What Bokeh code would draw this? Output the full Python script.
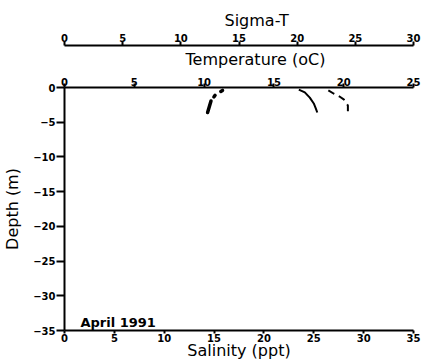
from bokeh.plotting import figure
from bokeh.models import LinearAxis, Range1d, FixedTicker, Label, Title
from bokeh.embed import file_html
from bokeh.resources import INLINE

# Profiles (depth in m, negative downward)
salinity = [23.5, 24.1, 24.6, 25.0, 25.2, 25.35]
sal_depth = [-0.3, -0.7, -1.45, -2.3, -3.0, -3.6]
temperature = [18.9, 19.3, 19.7, 20.0, 20.3, 20.3]
temp_depth = [-0.4, -0.9, -1.3, -1.7, -2.6, -3.5]
sigma_t = [12.3, 12.6, 13.0, 13.7]
sigma_depth = [-3.6, -1.9, -1.0, -0.3]

sal_ticks = [0, 5, 10, 15, 20, 25, 30, 35]
temp_ticks = [0, 5, 10, 15, 20, 25]
sigma_ticks = [0, 5, 10, 15, 20, 25, 30]
depth_ticks = [-35, -30, -25, -20, -15, -10, -5, 0]

FONT = "DejaVu Sans"

p = figure(width=425, height=362, output_backend="svg", toolbar_location=None,
           x_range=Range1d(0, 35), y_range=Range1d(-35, 0),
           min_border_left=64, min_border_right=12, min_border_top=87, min_border_bottom=32)
p.extra_x_ranges = {"temp": Range1d(0, 25), "sigma": Range1d(0, 30)}
p.outline_line_color = None
p.xgrid.visible = False
p.ygrid.visible = False
p.background_fill_color = "white"
p.border_fill_color = "white"


def style(ax, ticks, label=None, tsize="16px"):
    ax.ticker = FixedTicker(ticks=ticks)
    ax.minor_tick_line_color = None
    ax.axis_line_width = 2
    ax.axis_line_color = "black"
    ax.major_tick_line_width = 2
    ax.major_tick_line_color = "black"
    ax.major_tick_out = 4
    ax.major_tick_in = 0
    ax.major_label_standoff = 0
    ax.major_label_text_font = FONT
    ax.major_label_text_font_style = "bold"
    ax.major_label_text_font_size = "10px"
    ax.major_label_text_color = "black"
    ax.axis_label = label
    ax.axis_label_text_font = FONT
    ax.axis_label_text_font_style = "normal"
    ax.axis_label_text_font_size = tsize
    ax.axis_label_text_color = "black"
    ax.axis_label_standoff = 0


style(p.xaxis[0], sal_ticks, "Salinity (ppt)")
p.xaxis[0].major_tick_out = 3
p.xaxis[0].axis_label_standoff = -4

style(p.yaxis[0], depth_ticks, "Depth (m)")
p.yaxis[0].major_tick_out = 8
p.yaxis[0].major_label_standoff = 1
p.yaxis[0].axis_label_standoff = 8

temp_axis = LinearAxis(x_range_name="temp")
style(temp_axis, temp_ticks)
temp_axis.major_label_standoff = -2
p.add_layout(temp_axis, "above")
p.add_layout(Title(text="Temperature (oC)", align="left", vertical_align="top",
                   standoff=8, offset=121, text_font=FONT, text_font_style="normal",
                   text_font_size="16px", text_color="black"), "above")

sigma_axis = LinearAxis(x_range_name="sigma")
style(sigma_axis, sigma_ticks)
p.add_layout(sigma_axis, "above")
p.add_layout(Title(text="Sigma-T", align="left", vertical_align="bottom",
                   standoff=1, offset=160, text_font=FONT, text_font_style="normal",
                   text_font_size="16px", text_color="black"), "above")

p.line(salinity, sal_depth, line_color="black", line_width=2)
p.line(temperature, temp_depth, x_range_name="temp", line_color="black",
       line_width=2, line_dash="7 5")
p.line(sigma_t, sigma_depth, x_range_name="sigma", line_color="black",
       line_width=3.5, line_dash="12 5 2 7 2 30", line_cap="round")

p.add_layout(Label(x=1.6, y=-33.85, text="April 1991", text_font=FONT,
                   text_font_style="bold", text_font_size="13px",
                   text_baseline="alphabetic", text_color="black"))

open("out.html", "w").write(file_html(p, INLINE))
